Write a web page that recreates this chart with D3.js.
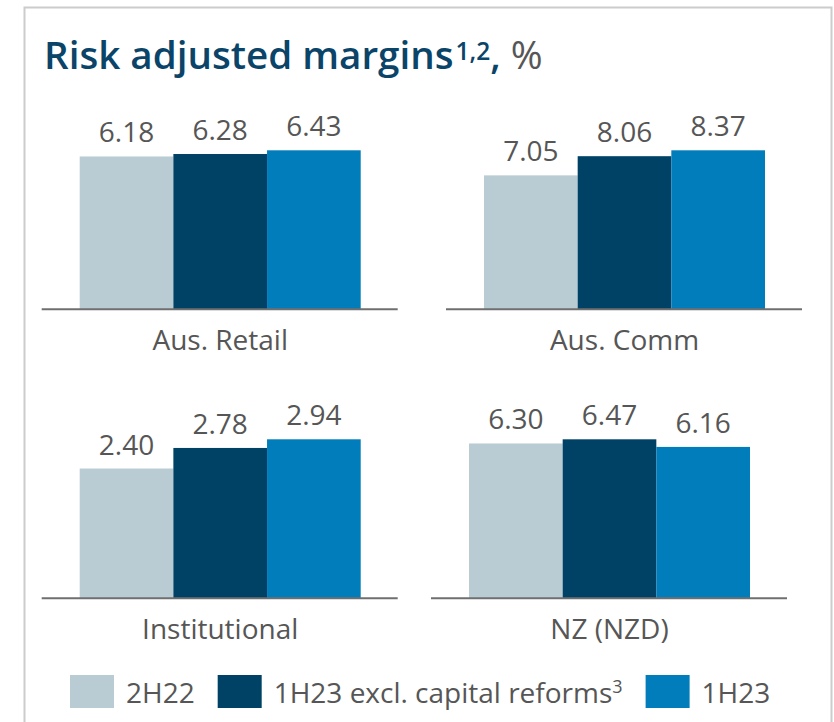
<!DOCTYPE html>
<html>
<head>
<meta charset="utf-8">
<script src="https://cdn.jsdelivr.net/npm/d3@7"></script>
<style>
  html, body { margin: 0; padding: 0; background: #ffffff; }
  svg { display: block; font-family: "Open Sans", "Noto Sans", sans-serif; }
</style>
</head>
<body>
<svg id="chart" width="834" height="722"></svg>
<script>
// ---- data ----
const categories = ["Aus. Retail", "Aus. Comm", "Institutional", "NZ (NZD)"];
const seriesNames = ["2H22", "1H23 excl. capital reforms", "1H23"];
const seriesSup = ["", "3", ""];
const values2H22 = [6.18, 7.05, 2.40, 6.30];
const values1H23excl = [6.28, 8.06, 2.78, 6.47];
const values1H23 = [6.43, 8.37, 2.94, 6.16];
const seriesValues = [values2H22, values1H23excl, values1H23];

// ---- styles / layout ----
const colors = ["#b9cbd3", "#004266", "#007dba"];
const textGray = "#565656";
const navy = "#0a4468";
const panelLayout = [
  { x: 41.7, base: 309.3 },
  { x: 446, base: 309.3 },
  { x: 41.7, base: 598.3 },
  { x: 431, base: 598.3 }
];
const lineLen = 356, barInset = 38, bandW = 281, maxBarH = 159;

const svg = d3.select("#chart");

// outer frame
svg.append("path")
  .attr("d", "M24.5,730 V7.5 H831.5 V730")
  .attr("fill", "none").attr("stroke", "#cccccc").attr("stroke-width", 2);

// title
const title = svg.append("text")
  .attr("x", 44).attr("y", 68.5)
  .attr("font-size", 38.6).attr("font-weight", 600).attr("fill", navy);
title.append("tspan").text("Risk adjusted margins");
title.append("tspan").attr("font-size", 24.5).attr("dx", 2).attr("dy", -9).text("1,2");
title.append("tspan").attr("dy", 9).text(",");
title.append("tspan").attr("font-weight", 400).attr("fill", textGray).text(" %");

// panels
categories.forEach((cat, i) => {
  const L = panelLayout[i];
  const g = svg.append("g").attr("transform", `translate(${L.x},0)`);
  const vals = seriesValues.map(s => s[i]);
  const x = d3.scaleBand().domain(seriesNames)
    .range([barInset, barInset + bandW]).paddingInner(0).paddingOuter(0);
  const y = d3.scaleLinear().domain([0, d3.max(vals)])
    .range([L.base, L.base - maxBarH]);

  g.selectAll("rect.bar").data(seriesNames).join("rect")
    .attr("class", "bar")
    .attr("x", d => x(d))
    .attr("width", x.bandwidth())
    .attr("y", (d, k) => y(vals[k]))
    .attr("height", (d, k) => L.base - y(vals[k]))
    .attr("fill", (d, k) => colors[k]);

  g.selectAll("text.val").data(seriesNames).join("text")
    .attr("class", "val")
    .attr("x", d => x(d) + x.bandwidth() / 2)
    .attr("y", (d, k) => y(vals[k]) - 14)
    .attr("text-anchor", "middle")
    .attr("font-size", 28).attr("fill", textGray)
    .text((d, k) => vals[k].toFixed(2));

  g.append("line")
    .attr("x1", 0).attr("x2", lineLen)
    .attr("y1", L.base).attr("y2", L.base)
    .attr("stroke", "#6f6f6f").attr("stroke-width", 2);

  g.append("text")
    .attr("x", barInset + bandW / 2)
    .attr("y", L.base + 41)
    .attr("text-anchor", "middle")
    .attr("font-size", 28).attr("fill", textGray)
    .text(cat);
});

// legend
let lx = 70;
const legY = 675;
seriesNames.forEach((name, k) => {
  svg.append("rect").attr("x", lx).attr("y", legY).attr("width", 44).attr("height", 33)
    .attr("fill", colors[k]);
  const t = svg.append("text").attr("x", lx + 56).attr("y", 703)
    .attr("font-size", 28).attr("fill", textGray);
  t.append("tspan").text(name);
  if (seriesSup[k]) {
    t.append("tspan").attr("font-size", 18).attr("dy", -10).text(seriesSup[k]);
  }
  const w = t.node().getComputedTextLength();
  lx = lx + 56 + w + 23;
});
</script>
</body>
</html>
